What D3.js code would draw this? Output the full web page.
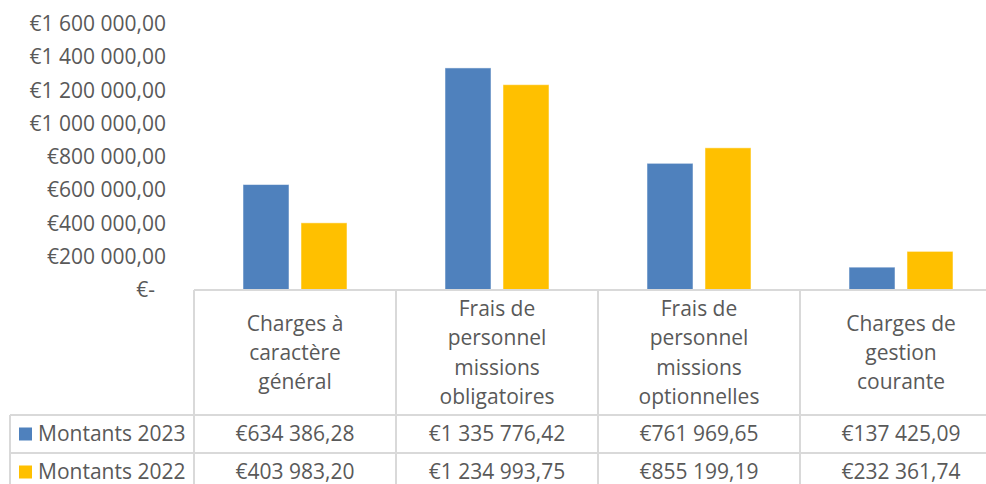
<!DOCTYPE html>
<html>
<head>
<meta charset="utf-8">
<script src="https://cdn.jsdelivr.net/npm/d3@7"></script>
<style>
  body { margin: 0; background: #fff; }
  text { font-family: "Open Sans", "Noto Sans", sans-serif; fill: #595959; }
</style>
</head>
<body>
<script>
var categories = ["Charges à caractère général", "Frais de personnel missions obligatoires",
                  "Frais de personnel missions optionnelles", "Charges de gestion courante"];
var seriesNames = ["Montants 2023", "Montants 2022"];
var montants2023 = [634386.28, 1335776.42, 761969.65, 137425.09];
var montants2022 = [403983.20, 1234993.75, 855199.19, 232361.74];
var yTicks = [0, 200000, 400000, 600000, 800000, 1000000, 1200000, 1400000, 1600000];
var colors = ["#4F81BD", "#FFC000"];

var width = 986, height = 484;
var plotLeft = 194, plotRight = 1002, plotTop = 24, plotBottom = 290;
var headerBottom = 415, rowH = 38, tableLeft = 10;
var grid = "#d9d9d9";

var fr = d3.formatLocale({decimal: ",", thousands: "\u00a0", grouping: [3], currency: ["€", ""]});
var money = fr.format("$,.2f");

var rows = seriesNames.map(function(name, i) {
    return {name: name, color: colors[i], values: i == 0 ? montants2023 : montants2022};
});

var svg = d3.select("body").append("svg")
    .attr("width", width)
    .attr("height", height);

var x = d3.scaleBand().domain(categories).range([plotLeft, plotRight]).padding(0);
var xSub = d3.scaleBand().domain(seriesNames).range([0, x.bandwidth()])
    .paddingInner(0.207).paddingOuter(0.845);
var y = d3.scaleLinear().domain([0, 1600000]).range([plotBottom, plotTop]);

// y axis
var yAxis = svg.append("g")
    .attr("transform", "translate(" + plotLeft + ",0)")
    .call(d3.axisLeft(y).tickValues(yTicks).tickSize(0).tickPadding(28)
        .tickFormat(function(d) { return d == 0 ? "€-" : money(d); }));
yAxis.select(".domain").remove();
yAxis.selectAll("text")
    .attr("fill", "#595959")
    .style("font-family", "'Open Sans', sans-serif")
    .style("font-size", "21px");
// accounting format pads the dash
yAxis.selectAll("text").filter(function(d) { return d == 0; }).attr("dx", -11);

// bars
var groups = svg.append("g").selectAll("g")
    .data(categories)
    .enter().append("g")
    .attr("transform", function(d) { return "translate(" + x(d) + ",0)"; });

groups.selectAll("rect")
    .data(function(d, ci) {
        return rows.map(function(r) { return {name: r.name, color: r.color, v: r.values[ci]}; });
    })
    .enter().append("rect")
    .attr("x", function(d) { return xSub(d.name); })
    .attr("width", xSub.bandwidth())
    .attr("y", function(d) { return y(d.v); })
    .attr("height", function(d) { return plotBottom - y(d.v); })
    .attr("fill", function(d) { return d.color; })
    .attr("stroke", "#ffffff")
    .attr("stroke-opacity", 0.5)
    .attr("stroke-width", 1);

// data table
var table = svg.append("g").attr("stroke", grid).attr("stroke-width", 2);
var tableBottom = headerBottom + rowH * 2;
table.append("line").attr("x1", plotLeft).attr("x2", plotRight + 2)
    .attr("y1", plotBottom).attr("y2", plotBottom);
[headerBottom, headerBottom + rowH, tableBottom].forEach(function(yy) {
    table.append("line").attr("x1", tableLeft).attr("x2", plotRight + 2)
        .attr("y1", yy).attr("y2", yy);
});
table.append("line").attr("x1", tableLeft).attr("x2", tableLeft)
    .attr("y1", headerBottom).attr("y2", tableBottom);
categories.concat(["end"]).forEach(function(c, i) {
    var xx = i < categories.length ? x(c) : plotRight;
    table.append("line").attr("x1", xx).attr("x2", xx)
        .attr("y1", plotBottom).attr("y2", tableBottom);
});

// header labels (wrapped)
var lineH = 29.3;
var headers = svg.append("g").selectAll("text")
    .data(categories)
    .enter().append("text")
    .attr("text-anchor", "middle")
    .style("font-size", "21px")
    .attr("x", function(d) { return x(d) + x.bandwidth() / 2; })
    .each(function(d) {
        var t = d3.select(this), words = d.split(" "), lines = [], cur = [];
        var probe = t.append("tspan");
        words.forEach(function(w) {
            cur.push(w);
            probe.text(cur.join(" "));
            if (probe.node().getComputedTextLength() > 155 && cur.length > 1) {
                cur.pop();
                lines.push(cur.join(" "));
                cur = [w];
            }
        });
        lines.push(cur.join(" "));
        probe.remove();
        var mid = (plotBottom + headerBottom) / 2;
        var y0 = mid - (lines.length - 1) * lineH / 2;
        lines.forEach(function(l, k) {
            t.append("tspan")
                .attr("x", x(d) + x.bandwidth() / 2)
                .attr("y", y0 + k * lineH)
                .attr("dy", "0.35em")
                .text(l);
        });
    });

// rows: legend key + values
var rowG = svg.append("g").selectAll("g")
    .data(rows)
    .enter().append("g")
    .attr("transform", function(d, i) { return "translate(0," + (headerBottom + rowH * i + rowH / 2) + ")"; });

rowG.append("rect")
    .attr("x", 19).attr("y", -6.5)
    .attr("width", 13).attr("height", 13)
    .attr("fill", function(d) { return d.color; });

rowG.append("text")
    .attr("x", 38).attr("dy", "0.35em")
    .style("font-size", "21px")
    .text(function(d) { return d.name; });

rowG.selectAll("text.val")
    .data(function(d) { return d.values; })
    .enter().append("text")
    .attr("class", "val")
    .attr("text-anchor", "middle")
    .attr("x", function(d, i) { return x(categories[i]) + x.bandwidth() / 2; })
    .attr("dy", "0.35em")
    .style("font-size", "21px")
    .text(function(d) { return money(d); });
</script>
</body>
</html>
